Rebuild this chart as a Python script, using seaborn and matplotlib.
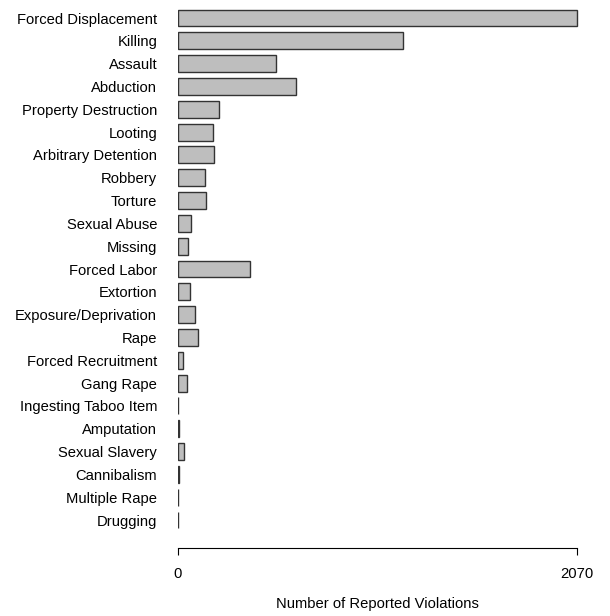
import matplotlib
matplotlib.use('Agg')
import pandas as pd
import seaborn as sns
import matplotlib.pyplot as plt

# Violation categories (top to bottom) and reported counts
categories = ['Forced Displacement', 'Killing', 'Assault', 'Abduction', 'Property Destruction',
              'Looting', 'Arbitrary Detention', 'Robbery', 'Torture', 'Sexual Abuse', 'Missing',
              'Forced Labor', 'Extortion', 'Exposure/Deprivation', 'Rape', 'Forced Recruitment',
              'Gang Rape', 'Ingesting Taboo Item', 'Amputation', 'Sexual Slavery', 'Cannibalism',
              'Multiple Rape', 'Drugging']
counts = [2070, 1166, 509, 614, 214,
          180, 189, 138, 147, 66, 54,
          375, 61, 87, 102, 28,
          47, 2, 4, 31, 4,
          1, 2]
x_ticks = [0, 2070]

df = pd.DataFrame({'violation': categories, 'count': counts})

sns.set_style('white')
plt.rcParams['font.family'] = ['Liberation Sans', 'DejaVu Sans']
plt.rcParams['text.color'] = 'black'
fs = 10.6

fig = plt.figure(figsize=(6.1, 6.16), dpi=100)
# 0 sits at x=178px and 2070 at x=577px; axes runs on to 600px
ax = fig.add_axes([178 / 610, 1 - 548 / 616, 422 / 610, 548 / 616])

sns.barplot(data=df, x='count', y='violation', orient='h', order=categories,
            color='#bebebe', saturation=1, edgecolor='#333333', linewidth=1,
            width=0.74, ax=ax)

ax.set_xlim(0, 2070 * 422 / 399)
ax.set_ylim(23.227, -0.789)
ax.set_xticks(x_ticks)
ax.set_xticklabels([str(t) for t in x_ticks], fontsize=fs)
ax.tick_params(axis='x', bottom=True, direction='out', length=5, width=0.8, pad=8.5,
               colors='black', labelcolor='black')
ax.tick_params(axis='y', left=False, length=0, pad=15, labelsize=fs, labelcolor='black')
ax.set_ylabel('')
ax.set_xlabel('Number of Reported Violations', fontsize=fs, color='black')
# centre the label under the 0..2070 axis line
ax.xaxis.set_label_coords(0.5 * 399 / 422, -(597 - 548) / 548)

for side in ['top', 'right', 'left']:
    ax.spines[side].set_visible(False)
ax.spines['bottom'].set_bounds(0, 2070)
ax.spines['bottom'].set_color('black')
ax.spines['bottom'].set_linewidth(0.8)

fig.savefig('out.png', dpi=100)
